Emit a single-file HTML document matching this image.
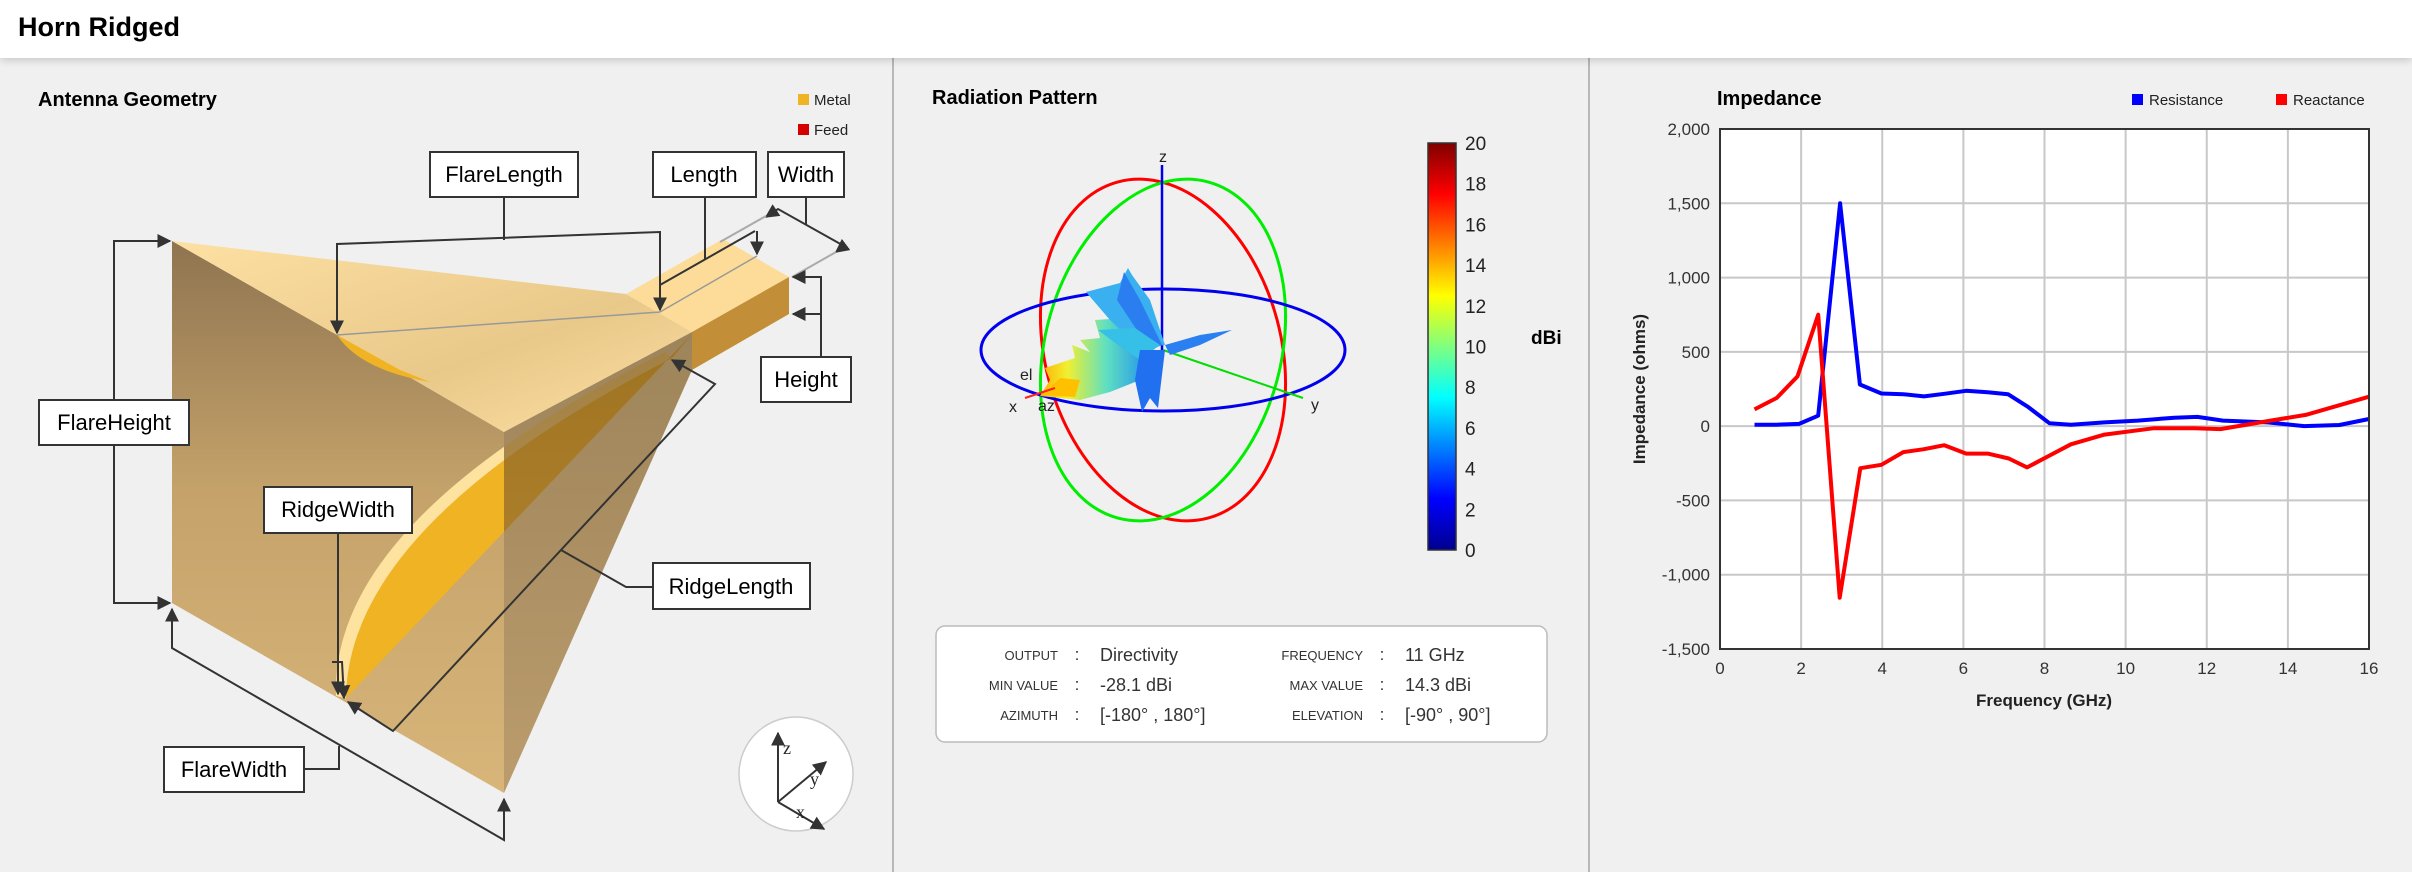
<!DOCTYPE html>
<html><head><meta charset="utf-8"><style>
html,body{margin:0;padding:0;width:2412px;height:872px;overflow:hidden;background:#f0f0f0;font-family:"Liberation Sans",sans-serif;}
#header{position:absolute;left:0;top:0;width:2412px;height:58px;background:#fff;box-shadow:0 2px 8px rgba(0,0,0,0.18);z-index:2}
#header h1{margin:0;position:absolute;left:18px;top:12px;font-size:27px;font-weight:bold;color:#000}
.divider{position:absolute;top:58px;width:2px;height:814px;background:#b8b8b8}
svg{position:absolute;left:0;top:0}
</style></head><body>
<div id="header"><h1>Horn Ridged</h1></div>
<div class="divider" style="left:892px"></div>
<div class="divider" style="left:1588px"></div>

<svg width="2412" height="872" viewBox="0 0 2412 872">
<defs>
<linearGradient id="leftFace" x1="0" y1="0" x2="0" y2="1"><stop offset="0" stop-color="#8f7450"/><stop offset="0.45" stop-color="#c4a26a"/><stop offset="1" stop-color="#d8b67a"/></linearGradient>
<linearGradient id="topFace" x1="0" y1="0" x2="1" y2="1"><stop offset="0" stop-color="#fde0a3"/><stop offset="0.6" stop-color="#e9c98a"/><stop offset="1" stop-color="#fde0a3"/></linearGradient>
<linearGradient id="rightFace" x1="0" y1="0" x2="0" y2="1"><stop offset="0" stop-color="#7e5a20"/><stop offset="1" stop-color="#a67c3a"/></linearGradient>
<linearGradient id="cbar" x1="0" y1="1" x2="0" y2="0"><stop offset="0" stop-color="#00008f"/><stop offset="0.125" stop-color="#0000ff"/><stop offset="0.375" stop-color="#00ffff"/><stop offset="0.5" stop-color="#7fff7f"/><stop offset="0.625" stop-color="#ffff00"/><stop offset="0.875" stop-color="#ff0000"/><stop offset="1" stop-color="#800000"/></linearGradient>
<linearGradient id="lobe" x1="0" y1="0" x2="1" y2="0"><stop offset="0" stop-color="#ffb000"/><stop offset="0.25" stop-color="#f0f030"/><stop offset="0.6" stop-color="#60e0c0"/><stop offset="1" stop-color="#2090f0"/></linearGradient>
<marker id="ar" viewBox="0 0 10 10" refX="9" refY="5" markerWidth="7" markerHeight="7" orient="auto-start-reverse"><path d="M0,0 L10,5 L0,10 z" fill="#333"/></marker>
</defs>

<!-- ============ Antenna Geometry ============ -->
<g>
<text x="38" y="106" font-size="20" font-weight="bold">Antenna Geometry</text>
<rect x="798" y="94" width="11" height="11" fill="#f0b323"/>
<text x="814" y="105" font-size="15" fill="#222">Metal</text>
<rect x="798" y="124" width="11" height="11" fill="#d40000"/>
<text x="814" y="135" font-size="15" fill="#222">Feed</text>

<g>
<polygon points="172,241 337,335 504,432 504,793 172,603" fill="url(#leftFace)"/>
<polygon points="172,241 626,294 692,332 504,432 337,335" fill="url(#topFace)"/>
<path d="M337,335 Q360,370 430,382 L400,370 Z" fill="#f0b323"/>
<polygon points="626,294 723,239 789,277 692,332" fill="#fcdc98"/>
<polygon points="692,332 789,277 789,314 692,370" fill="#c28f38"/>
<path d="M665,352 Q330,520 336,696 L346,698 Q350,524 672,358 Z" fill="#fde2a0"/>
<path d="M672,358 Q348,524 346,698 L692,334 Z" fill="#f0b323"/>
<polygon points="504,432 692,332 692,370 504,793" fill="url(#rightFace)" opacity="0.72"/>
<line x1="337" y1="335" x2="660" y2="312" stroke="#999" stroke-width="1.5"/>
<line x1="660" y1="312" x2="757" y2="256" stroke="#999" stroke-width="1.5"/>
</g>

<g fill="none" stroke="#333" stroke-width="2">
<polyline points="504,197 504,240"/>
<polyline points="337,333 337,244 660,232 660,310" marker-start="url(#ar)" marker-end="url(#ar)"/>
<polyline points="705,197 705,259"/>
<line x1="660" y1="285" x2="755" y2="231"/>
<polyline points="757,231 757,254" marker-end="url(#ar)"/>
<polyline points="806,197 806,225"/>
<polyline points="766,217 778,209 844,246 836,252" marker-start="url(#ar)" marker-end="url(#ar)"/>
<line x1="766" y1="216" x2="720" y2="242" stroke="#aaa"/>
<line x1="836" y1="252" x2="792" y2="277" stroke="#aaa"/>
<polyline points="821,357 821,277 793,277" marker-end="url(#ar)"/>
<polyline points="821,314 793,314" marker-end="url(#ar)"/>
<polyline points="170,241 114,241 114,603 170,603" marker-start="url(#ar)" marker-end="url(#ar)"/>
<polyline points="338,533 338,694" marker-end="url(#ar)"/>
<polyline points="332,662 342,662 344,698" marker-end="url(#ar)"/>
<polyline points="653,587 626,587 561,550"/>
<polyline points="672,360 715,384 393,731 348,702" marker-start="url(#ar)" marker-end="url(#ar)"/>
<polyline points="304,769 339,769 339,746"/>
<polyline points="172,609 172,648 504,840 504,799" marker-start="url(#ar)" marker-end="url(#ar)"/>
</g>

<g font-size="22" fill="#000">
<g><rect x="430" y="152" width="148" height="45" fill="#fff" stroke="#333" stroke-width="2"/><text x="504" y="182" text-anchor="middle">FlareLength</text></g>
<g><rect x="653" y="152" width="103" height="45" fill="#fff" stroke="#333" stroke-width="2"/><text x="704" y="182" text-anchor="middle">Length</text></g>
<g><rect x="768" y="152" width="76" height="45" fill="#fff" stroke="#333" stroke-width="2"/><text x="806" y="182" text-anchor="middle">Width</text></g>
<g><rect x="761" y="357" width="90" height="45" fill="#fff" stroke="#333" stroke-width="2"/><text x="806" y="387" text-anchor="middle">Height</text></g>
<g><rect x="39" y="400" width="150" height="45" fill="#fff" stroke="#333" stroke-width="2"/><text x="114" y="430" text-anchor="middle">FlareHeight</text></g>
<g><rect x="264" y="487" width="148" height="46" fill="#fff" stroke="#333" stroke-width="2"/><text x="338" y="517" text-anchor="middle">RidgeWidth</text></g>
<g><rect x="653" y="563" width="157" height="46" fill="#fff" stroke="#333" stroke-width="2"/><text x="731" y="594" text-anchor="middle">RidgeLength</text></g>
<g><rect x="164" y="747" width="140" height="45" fill="#fff" stroke="#333" stroke-width="2"/><text x="234" y="777" text-anchor="middle">FlareWidth</text></g>
</g>

<g>
<ellipse cx="796" cy="774" rx="57" ry="57" fill="#fff" stroke="#ccc" stroke-width="1.5"/>
<g stroke="#333" stroke-width="2" fill="none">
<line x1="778" y1="802" x2="778" y2="733" marker-end="url(#ar)"/>
<line x1="778" y1="802" x2="826" y2="762" marker-end="url(#ar)"/>
<line x1="778" y1="802" x2="824" y2="829" marker-end="url(#ar)"/>
</g>
<g font-family="Liberation Serif,serif" font-size="18" fill="#222">
<text x="783" y="754">z</text><text x="810" y="785">y</text><text x="796" y="818">x</text>
</g>
</g>
</g>

<!-- ============ Radiation Pattern ============ -->
<g>
<text x="932" y="104" font-size="20" font-weight="bold">Radiation Pattern</text>
<g>
<ellipse cx="1163" cy="350" rx="118" ry="174" transform="rotate(-15 1163 350)" fill="none" stroke="#ff0000" stroke-width="3"/>
<ellipse cx="1163" cy="350" rx="118" ry="174" transform="rotate(15 1163 350)" fill="none" stroke="#00ee00" stroke-width="3"/>
<ellipse cx="1163" cy="350" rx="182" ry="61" fill="none" stroke="#0000ee" stroke-width="3"/>
<line x1="1162" y1="165" x2="1162" y2="352" stroke="#0000ee" stroke-width="2.5"/>
<line x1="1163" y1="350" x2="1303" y2="398" stroke="#00dd00" stroke-width="2"/>
<polygon points="1040,396 1050,380 1045,368 1075,358 1072,345 1090,352 1080,340 1100,338 1095,320 1125,318 1150,350 1140,380 1110,392 1080,400" fill="url(#lobe)"/>
<polygon points="1086,292 1120,283 1128,268 1132,275 1150,300 1165,345 1140,348 1110,320" fill="#3ab0f0"/>
<polygon points="1117,300 1124,272 1140,300 1162,345 1150,350" fill="#2a7ef0"/>
<polygon points="1098,330 1135,328 1160,345 1140,360 1118,345" fill="#36c0e8"/>
<polygon points="1165,345 1200,335 1232,330 1200,345 1170,355" fill="#2a80f0"/>
<polygon points="1140,350 1165,350 1158,408 1150,398 1142,412 1135,380" fill="#2070f0"/>
<polygon points="1042,395 1060,378 1080,380 1075,397" fill="#ffc000"/>
<line x1="1025" y1="398" x2="1055" y2="388" stroke="#ff2020" stroke-width="2"/>
<g font-size="16" fill="#222">
<text x="1163" y="162" text-anchor="middle">z</text>
<text x="1311" y="410">y</text>
<text x="1009" y="412">x</text>
<text x="1020" y="380">el</text>
<text x="1038" y="411">az</text>
</g>
</g>
<g>
<rect x="1428" y="143" width="28" height="407" fill="url(#cbar)" stroke="#333" stroke-width="1.5"/>
<g font-size="19" fill="#222" id="cbticks"></g>
<text x="1531" y="344" font-size="19" font-weight="bold">dBi</text>
</g>
<g>
<rect x="936" y="626" width="611" height="116" rx="9" fill="#fff" stroke="#bbb" stroke-width="1.5"/>
<g font-size="13" fill="#333" text-anchor="end">
<text x="1058" y="660">OUTPUT</text><text x="1058" y="690">MIN VALUE</text><text x="1058" y="720">AZIMUTH</text>
<text x="1363" y="660">FREQUENCY</text><text x="1363" y="690">MAX VALUE</text><text x="1363" y="720">ELEVATION</text>
</g>
<g font-size="17" fill="#333" text-anchor="middle">
<text x="1077" y="660">:</text><text x="1077" y="690">:</text><text x="1077" y="720">:</text>
<text x="1382" y="660">:</text><text x="1382" y="690">:</text><text x="1382" y="720">:</text>
</g>
<g font-size="18" fill="#333">
<text x="1100" y="661">Directivity</text><text x="1100" y="691">-28.1 dBi</text><text x="1100" y="721">[-180° , 180°]</text>
<text x="1405" y="661">11 GHz</text><text x="1405" y="691">14.3 dBi</text><text x="1405" y="721">[-90° , 90°]</text>
</g>
</g>
</g>

<!-- ============ Impedance ============ -->
<g>
<text x="1717" y="105" font-size="20" font-weight="bold">Impedance</text>
<g><rect x="2132" y="94" width="11" height="11" fill="#0000ff"/><text x="2149" y="105" font-size="15" fill="#222">Resistance</text></g>
<g><rect x="2276" y="94" width="11" height="11" fill="#ff0000"/><text x="2293" y="105" font-size="15" fill="#222">Reactance</text></g>
<rect x="1720" y="129" width="649" height="520" fill="#fff"/>
<g id="grid"></g>
<g id="series"></g>
<rect x="1720" y="129" width="649" height="520" fill="none" stroke="#333" stroke-width="2"/>
<g id="ticks" font-size="17" fill="#333"></g>
<text x="2044" y="706" font-size="17" font-weight="bold" text-anchor="middle" fill="#222">Frequency (GHz)</text>
<text x="1645" y="389" font-size="17" font-weight="bold" text-anchor="middle" fill="#222" transform="rotate(-90 1645 389)">Impedance (ohms)</text>
</g>
</svg>

<script>
const freq = [0.85,1.4,1.95,2.42,2.96,3.45,3.98,4.52,5.03,5.53,6.07,6.6,7.1,7.6,8.12,8.65,9.48,10.3,11.2,11.77,12.4,13.5,14.4,15.27,16];
const resistance = [10,10,15,70,1500,280,220,215,200,218,238,228,215,128,20,10,25,37,57,62,37,25,0,8,48];
const reactFreq = [0.85,1.4,1.91,2.42,2.95,3.46,3.98,4.52,5.03,5.53,6.07,6.6,7.12,7.57,8.12,8.65,9.48,10.7,11.7,12.34,13.5,14.44,16];
const reactance = [113,190,335,750,-1155,-283,-260,-175,-155,-128,-185,-185,-218,-278,-198,-122,-57,-14,-14,-20,34,76,198];
const xTicks = [0,2,4,6,8,10,12,14,16];
const yTicks = [-1500,-1000,-500,0,500,1000,1500,2000];
const yTickLabels = ["-1,500","-1,000","-500","0","500","1,000","1,500","2,000"];
const cbTicks = [0,2,4,6,8,10,12,14,16,18,20];

const NS = "http://www.w3.org/2000/svg";
const X0=1720,X1=2369,Y0=649,Y1=129;
const xs = f => X0 + (f-0)/(16-0)*(X1-X0);
const ys = v => Y0 - (v+1500)/(3500)*(Y0-Y1);

const grid = document.getElementById('grid');
const ticks = document.getElementById('ticks');
xTicks.forEach(t=>{
  const l=document.createElementNS(NS,'line');
  l.setAttribute('x1',xs(t));l.setAttribute('x2',xs(t));l.setAttribute('y1',Y1);l.setAttribute('y2',Y0);
  l.setAttribute('stroke','#c8c8c8');l.setAttribute('stroke-width','2');
  
  
  grid.appendChild(l);
  const tx=document.createElementNS(NS,'text');
  tx.setAttribute('x',xs(t));tx.setAttribute('y',674);tx.setAttribute('text-anchor','middle');
  tx.textContent=t;
  
  
  ticks.appendChild(tx);
});
yTicks.forEach((t,i)=>{
  const l=document.createElementNS(NS,'line');
  l.setAttribute('x1',X0);l.setAttribute('x2',X1);l.setAttribute('y1',ys(t));l.setAttribute('y2',ys(t));
  l.setAttribute('stroke','#c8c8c8');l.setAttribute('stroke-width','2');
  
  
  grid.appendChild(l);
  const tx=document.createElementNS(NS,'text');
  tx.setAttribute('x',1710);tx.setAttribute('y',ys(t)+6);tx.setAttribute('text-anchor','end');
  tx.textContent=yTickLabels[i];
  
  
  ticks.appendChild(tx);
});
const series=document.getElementById('series');
function addLine(fx,vals,color,name){
  const p=document.createElementNS(NS,'polyline');
  p.setAttribute('points',vals.map((v,i)=>xs(fx[i]).toFixed(1)+','+ys(v).toFixed(1)).join(' '));
  p.setAttribute('fill','none');p.setAttribute('stroke',color);p.setAttribute('stroke-width','4');
  p.setAttribute('stroke-linejoin','round');
  
  
  series.appendChild(p);
}
addLine(freq,resistance,'#0000ff','resistance-line');
addLine(reactFreq,reactance,'#ff0000','reactance-line');

const cb=document.getElementById('cbticks');
cbTicks.forEach(t=>{
  const y=550-(t/20)*407;
  const tx=document.createElementNS(NS,'text');
  tx.setAttribute('x',1465);tx.setAttribute('y',y+7);
  tx.textContent=t;
  
  
  cb.appendChild(tx);
});
</script>
</body></html>
